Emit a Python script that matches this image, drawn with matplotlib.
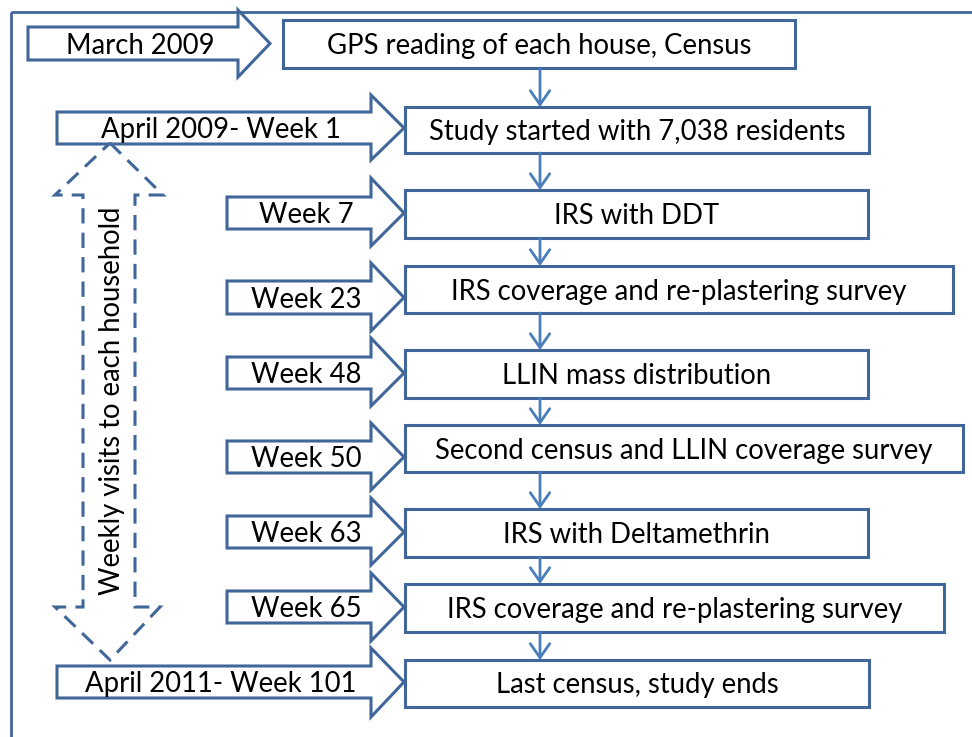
import matplotlib.pyplot as plt
from matplotlib.patches import Polygon, Rectangle

# timeline labels (left block arrows) and the events they point to
time_labels = ["March 2009", "April 2009- Week 1", "Week 7", "Week 23", "Week 48",
               "Week 50", "Week 63", "Week 65", "April 2011- Week 101"]
event_labels = ["GPS reading of each house, Census",
                "Study started with 7,038 residents",
                "IRS with DDT",
                "IRS coverage and re-plastering survey",
                "LLIN mass distribution",
                "Second census and LLIN coverage survey",
                "IRS with Deltamethrin",
                "IRS coverage and re-plastering survey",
                "Last census, study ends"]
side_label = "Weekly visits to each household"

# layout, in pixels of the 972x737 canvas (y grows downwards)
arr_x0 = [28, 57, 227, 227, 227, 227, 227, 227, 57]
arr_x1 = [238, 371, 371, 371, 371, 371, 371, 371, 371]
arr_x2 = [270, 404, 404, 404, 404, 404, 404, 404, 404]
shaft_top = [27, 112, 197, 281, 357, 441, 516, 591, 666]
shaft_bot = [60, 144, 229, 314, 389, 473, 548, 623, 698]
head_top = [10, 95, 178, 263, 338, 423, 498, 573, 648]
head_bot = [77, 160, 246, 331, 406, 490, 565, 641, 717]
box_x0 = [283, 405, 405, 405, 405, 405, 405, 405, 405]
box_x1 = [795, 869, 868, 953, 868, 963, 868, 944, 869]
box_top = [20, 107, 190, 266, 350, 425, 509, 584, 660]
box_bot = [68, 153, 238, 313, 398, 472, 557, 632, 707]

edge = "#41669A"
link = "#4A7EBB"
font = "Lato"
fs = 19.8

fig = plt.figure(figsize=(9.72, 7.37), dpi=100)
ax = fig.add_axes([0, 0, 1, 1])
ax.set_xlim(0, 972)
ax.set_ylim(737, 0)
ax.axis("off")

# outer frame (runs off the right and bottom edges)
ax.add_patch(Rectangle((11, 12), 1000, 800, fill=False, ec=edge, lw=2))

for i in range(len(time_labels)):
    pts = [(arr_x0[i], shaft_top[i]), (arr_x1[i], shaft_top[i]), (arr_x1[i], head_top[i]),
           (arr_x2[i], (shaft_top[i] + shaft_bot[i]) / 2),
           (arr_x1[i], head_bot[i]), (arr_x1[i], shaft_bot[i]), (arr_x0[i], shaft_bot[i])]
    ax.add_patch(Polygon(pts, closed=True, fc="white", ec=edge, lw=2.2, joinstyle="miter"))
    ym = (shaft_top[i] + shaft_bot[i]) / 2
    ax.text((arr_x0[i] + arr_x1[i]) / 2 + 7, ym + 10, time_labels[i], ha="center",
            va="baseline", fontsize=fs, family=font, color="black")

    ax.add_patch(Rectangle((box_x0[i], box_top[i]), box_x1[i] - box_x0[i],
                           box_bot[i] - box_top[i], fc="white", ec=edge, lw=2.2))
    ax.text((box_x0[i] + box_x1[i]) / 2, (box_top[i] + box_bot[i]) / 2 + 10, event_labels[i],
            ha="center", va="baseline", fontsize=fs, family=font, color="black")

# connectors between consecutive event boxes
for i in range(len(event_labels) - 1):
    ax.annotate("", xy=(540, box_top[i + 1]), xytext=(540, box_bot[i]),
                arrowprops=dict(arrowstyle="->,head_length=0.5,head_width=0.35",
                                color=link, lw=2, mutation_scale=20,
                                shrinkA=0, shrinkB=0))

# dashed double-headed arrow on the left
dash_pts = [(110, 143), (163, 195), (135, 195), (135, 607), (160, 607), (110, 660),
            (55, 607), (83, 607), (83, 195), (55, 195)]
ax.add_patch(Polygon(dash_pts, closed=True, fill=False, ec=edge, lw=2.2,
                     linestyle=(0, (5, 3))))
ax.text(112, 401, side_label, rotation=90, ha="center", va="center",
        fontsize=fs, family=font, color="black")

fig.savefig("out.png", dpi=100)
